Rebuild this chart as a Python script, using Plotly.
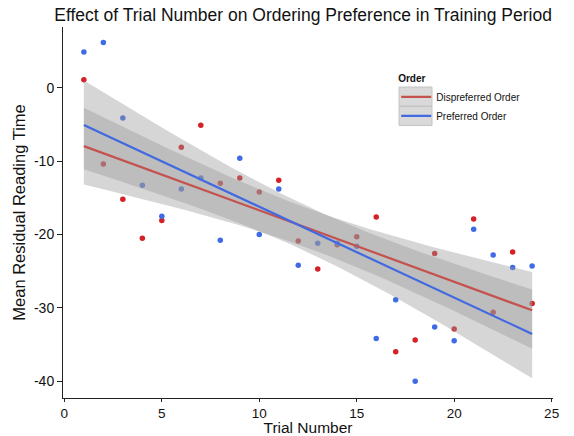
import numpy as np
import plotly.graph_objects as go

# ---- data ----
trial = list(range(1, 25))
dispreferred = [1.1, -10.4, -15.2, -20.5, -18.1, -8.1, -5.1, -13.0, -12.3, -14.2,
                -12.6, -20.9, -24.7, -21.4, -20.3, -17.6, -36.0, -34.4, -22.6, -32.9,
                -17.9, -30.6, -22.4, -29.4]
preferred = [4.9, 6.2, -4.1, -13.3, -17.5, -13.8, -12.3, -20.8, -9.6, -20.0,
             -13.8, -24.2, -21.2, -21.2, -21.6, -34.2, -28.9, -40.0, -32.6, -34.5,
             -19.3, -22.8, -24.5, -24.3]
series_names = ["Dispreferred Order", "Preferred Order"]
x_ticks = [0, 5, 10, 15, 20, 25]
y_ticks = [-40, -30, -20, -10, 0]
y_tick_text = ["-40", "-30", "-20", "-10", "0"]

point_colors = ["#d42126", "#3f6be6"]
line_colors = ["#c4524e", "#4169e1"]
band_fill = "rgba(153,153,153,0.4)"
T975 = 2.0739  # t quantile, df = 22

FONT = "Liberation Sans, Arial, Helvetica, sans-serif"

# plot-area geometry (px) used to place legend key backgrounds
W, H = 574, 436
ML, MR, MT, MB = 63, 21, 27, 38
PW, PH = W - ML - MR, H - MT - MB


def fit(x, y):
    x = np.asarray(x, float)
    y = np.asarray(y, float)
    n = len(x)
    b, a = np.polyfit(x, y, 1)
    resid = y - (a + b * x)
    s = np.sqrt(np.sum(resid ** 2) / (n - 2))
    xg = np.linspace(x.min(), x.max(), 80)
    yg = a + b * xg
    se = s * np.sqrt(1.0 / n + (xg - x.mean()) ** 2 / np.sum((x - x.mean()) ** 2))
    return xg, yg, yg - T975 * se, yg + T975 * se


fig = go.Figure()
all_y = [dispreferred, preferred]

# points first
for name, ys, pc in zip(series_names, all_y, point_colors):
    fig.add_trace(go.Scatter(x=trial, y=ys, mode="markers",
                             marker=dict(color=pc, size=5.5),
                             showlegend=False, hoverinfo="skip"))

fits = [fit(trial, ys) for ys in all_y]

# confidence ribbons
for (xg, yg, lo, hi) in fits:
    fig.add_trace(go.Scatter(x=np.concatenate([xg, xg[::-1]]),
                             y=np.concatenate([hi, lo[::-1]]),
                             mode="lines", fill="toself", fillcolor=band_fill,
                             line=dict(width=0), showlegend=False, hoverinfo="skip"))

# fitted lines (legend entries)
for name, (xg, yg, lo, hi), lc in zip(series_names, fits, line_colors):
    fig.add_trace(go.Scatter(x=xg, y=yg, mode="lines", name=name,
                             line=dict(color=lc, width=2.2)))

axis_common = dict(showgrid=False, zeroline=False, showline=True, linecolor="#222",
                    linewidth=1, ticks="outside", tickcolor="#222", tickwidth=1,
                    automargin=False,
                    tickfont=dict(size=14, color="#111", family=FONT))


def px_to_paper(x0, y0, x1, y1):
    return dict(x0=(x0 - ML) / PW, x1=(x1 - ML) / PW,
                y0=(H - MB - y0) / PH, y1=(H - MB - y1) / PH)


# grey legend key backgrounds
shapes = []
for top in (87, 106.5):
    shapes.append(dict(type="rect", xref="paper", yref="paper", layer="below",
                       fillcolor="#d9d9d9", line=dict(color="#c4c4c4", width=1),
                       **px_to_paper(399, top, 432, top + 19)))

fig.update_layout(
    width=W, height=H,
    margin=dict(l=ML, r=MR, t=MT, b=MB, autoexpand=False),
    paper_bgcolor="white", plot_bgcolor="white",
    font=dict(family=FONT, color="#111"),
    title=dict(text="Effect of Trial Number on Ordering Preference in Training Period",
               font=dict(size=17.5, color="#111", family=FONT),
               xref="paper", x=0.49, xanchor="center",
               yref="container", y=1 - 15 / 436, yanchor="middle"),
    xaxis=dict(range=[-0.07, 25.07], tickvals=x_ticks, ticklen=3,
               title=dict(text="Trial Number", font=dict(size=15.5, family=FONT), standoff=0),
               **axis_common),
    yaxis=dict(range=[-42.3, 8.3], tickvals=y_ticks, ticktext=y_tick_text, ticklen=5,
               title=dict(text="Mean Residual Reading Time", font=dict(size=16.5, family=FONT), standoff=4),
               **axis_common),
    legend=dict(title=dict(text="<b>Order</b>", font=dict(size=10, family=FONT)),
                font=dict(size=10, family=FONT), x=0.68, xanchor="left",
                y=0.886, yanchor="top", bgcolor="rgba(0,0,0,0)", tracegroupgap=0),
    shapes=shapes,
)
fig.update_xaxes(tickfont=dict(size=13.5))

fig.write_html("out.html")
